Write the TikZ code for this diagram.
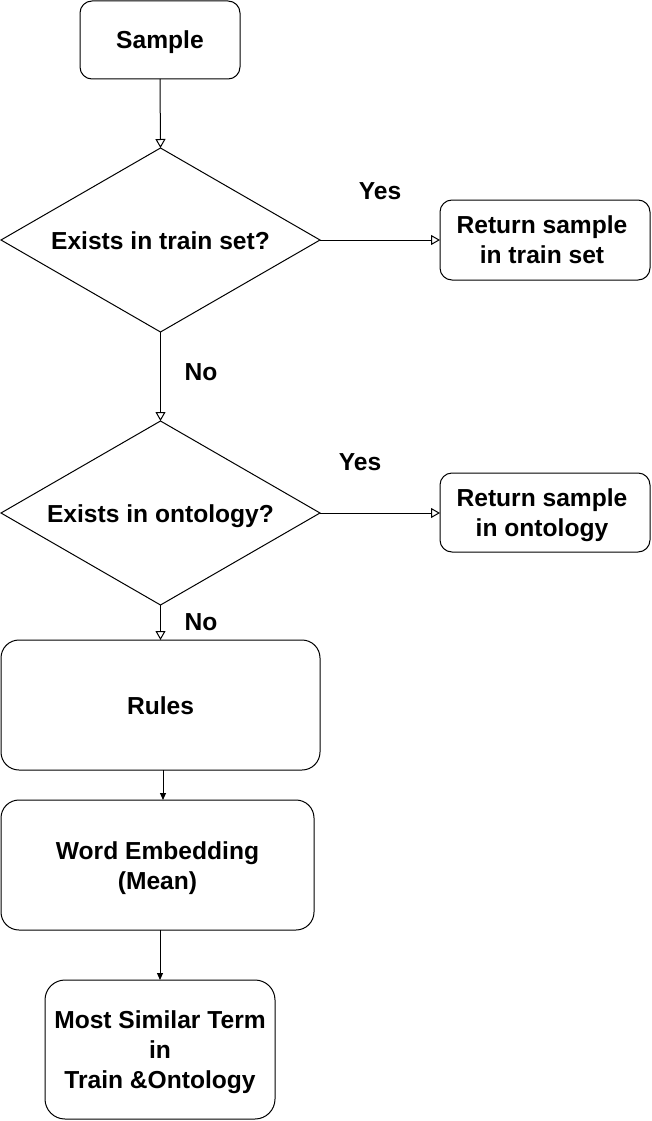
\documentclass[tikz,border=0pt]{standalone}
\usepackage{fontspec}
\setmainfont{Liberation Sans}
\usetikzlibrary{shapes.geometric,arrows.meta}
\begin{document}
\begin{tikzpicture}[x=1pt,y=-1pt,
  every node/.style={font=\fontsize{24.6}{29.7}\selectfont\bfseries, align=center},
  box/.style={draw, line width=1pt, rectangle, inner sep=0pt, outer sep=0pt},
  dia/.style={draw, line width=1pt, diamond, inner sep=0pt, outer sep=0pt, minimum width=319pt, minimum height=184pt},
  opena/.style={draw, line width=1pt, -{Triangle[open, length=9pt, width=10pt, line width=1pt]}},
  filla/.style={draw, line width=1pt, -{Triangle[length=7pt, width=6pt]}},
  txt/.style={inner sep=0pt, anchor=base},
  lbl/.style={inner sep=0pt}]
\useasboundingbox (0,0) rectangle (651,1121);
\node[box, rounded corners=12pt, minimum width=160pt, minimum height=78pt] (sample) at (160,40) {};
\node[txt] (samplet) at (160,48.3) {Sample};
\node[dia] (d1) at (160.5,240) {};
\node[txt] (d1t) at (160.5,249) {Exists in train set?};
\node[box, rounded corners=12pt, minimum width=210pt, minimum height=80pt] (r1) at (545,240) {};
\node[txt] (r1t) at (542,263.5) {Return sample\\in train set};
\node[dia] (d2) at (160.5,513) {};
\node[txt] (d2t) at (160.5,522) {Exists in ontology?};
\node[box, rounded corners=12pt, minimum width=210pt, minimum height=79pt] (r2) at (545,512.5) {};
\node[txt] (r2t) at (542,536) {Return sample\\in ontology};
\node[box, rounded corners=18pt, minimum width=319pt, minimum height=130pt] (rules) at (160.5,705) {};
\node[txt] (rulest) at (160.5,714) {Rules};
\node[box, rounded corners=18pt, minimum width=313pt, minimum height=130pt] (we) at (157.5,865) {};
\node[txt] (wet) at (157.5,889) {Word Embedding\\(Mean)};
\node[box, rounded corners=20pt, minimum width=230pt, minimum height=139pt] (ms) at (160,1049.5) {};
\node[txt] (mst) at (160,1088) {Most Similar Term\\in\\Train \&Ontology};
\node[lbl] (y1) at (380,191) {Yes};
\node[lbl] (n1) at (201,372) {No};
\node[lbl] (y2) at (360,462) {Yes};
\node[lbl] (n2) at (201,622) {No};
\draw[opena] (sample.south) -- (d1.north);
\draw[opena] (d1.east) -- (r1.west);
\draw[opena] (d1.south) -- (d2.north);
\draw[opena] (d2.east) -- (r2.west |- d2.east);
\draw[opena] (d2.south) -- (rules.north);
\draw[filla] (rules.south -| 163,0) -- (we.north -| 163,0);
\draw[filla] (we.south -| 160,0) -- (ms.north);
\end{tikzpicture}
\end{document}
